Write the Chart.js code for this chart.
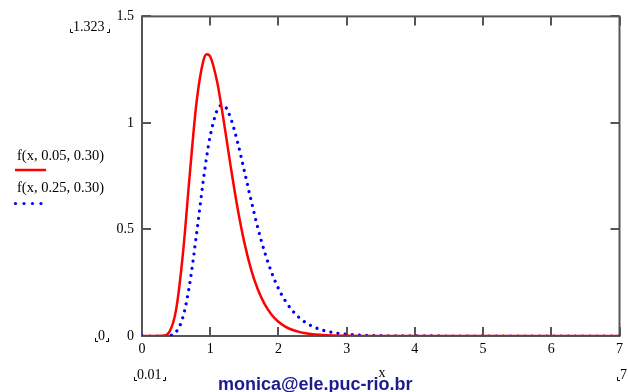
<!DOCTYPE html>
<html>
<head>
<meta charset="utf-8">
<script src="https://cdn.jsdelivr.net/npm/chart.js@4/dist/chart.umd.min.js"></script>
<style>
html,body{margin:0;padding:0;background:#fff;}
#wrap{position:relative;width:628px;height:392px;}
canvas{display:block;}
</style>
</head>
<body>
<div id="wrap"><canvas id="c" width="628" height="392"></canvas></div>
<script>
// x values (Mathcad range starts at 0.01)
const xValues = [0.01,0.1,0.2,0.3,0.4,0.5,0.6,0.7,0.8,0.9,0.95,1.0,1.1,1.15,1.2,1.3,1.4,1.5,1.6,1.7,1.8,1.9,2.0,2.1,2.2,2.3,2.4,2.5,2.6,2.7,2.8,2.9,3.0,3.2,3.4,3.6,3.8,4.0,5.0,6.0,7.0];
// f(x, 0.05, 0.30)
const seriesA = [0,0,0.000002,0.0007,0.0186,0.1237,0.3862,0.758,1.0982,1.2922,1.3222,1.3115,1.1952,1.1057,1.0055,0.7962,0.6021,0.4394,0.3119,0.2168,0.1482,0.1,0.0668,0.0443,0.0292,0.0192,0.0126,0.0082,0.0054,0.0035,0.0023,0.0015,0.001,0.0004,0.0002,0.0001,0.00003,0.00001,0,0,0];
// f(x, 0.25, 0.30)
const seriesB = [0,0,0,0.00004,0.0017,0.019,0.0889,0.2459,0.4793,0.7326,0.8454,0.9397,1.0584,1.0809,1.0803,1.0221,0.9112,0.7752,0.6352,0.5051,0.3919,0.2982,0.2233,0.1651,0.1208,0.0876,0.0631,0.0452,0.0322,0.0229,0.0162,0.0115,0.0081,0.004,0.002,0.001,0.0005,0.0003,0,0,0];
const seriesNames = ["f(x, 0.05, 0.30)", "f(x, 0.25, 0.30)"];
const xTicks = [0,1,2,3,4,5,6,7];
const yTicks = [0,0.5,1,1.5];
const yTickLabels = ["0","0.5","1","1.5"];

const SERIF = '"Liberation Serif", "Times New Roman", serif';

const framePlugin = {
  id: 'frame',
  beforeDatasetsDraw(chart) {
    const ctx = chart.ctx, a = chart.chartArea;
    const xs = chart.scales.x, ys = chart.scales.y;
    ctx.save();
    ctx.strokeStyle = '#555555';
    ctx.lineWidth = 2;
    ctx.strokeRect(a.left, a.top, a.right - a.left, a.bottom - a.top);
    ctx.beginPath();
    xTicks.forEach(v => {
      const px = Math.round(xs.getPixelForValue(v));
      ctx.moveTo(px, a.bottom); ctx.lineTo(px, a.bottom - 9);
      ctx.moveTo(px, a.top); ctx.lineTo(px, a.top + 9);
    });
    yTicks.forEach(v => {
      const py = Math.round(ys.getPixelForValue(v));
      ctx.moveTo(a.left, py); ctx.lineTo(a.left + 9, py);
      ctx.moveTo(a.right, py); ctx.lineTo(a.right - 9, py);
    });
    ctx.stroke();
    ctx.restore();
  },
  afterDraw(chart) {
    const ctx = chart.ctx;
    ctx.save();
    ctx.fillStyle = '#000';
    ctx.font = '14px ' + SERIF;
    ctx.textBaseline = 'alphabetic';
    const corner = (x1, x2, yb) => {
      ctx.strokeStyle = '#000';
      ctx.lineWidth = 1;
      ctx.beginPath();
      ctx.moveTo(x1 + 0.5, yb - 3); ctx.lineTo(x1 + 0.5, yb + 0.5); ctx.lineTo(x1 + 3, yb + 0.5);
      if (x2 !== null) {
        ctx.moveTo(x2 - 0.5, yb - 3); ctx.lineTo(x2 - 0.5, yb + 0.5); ctx.lineTo(x2 - 3, yb + 0.5);
      }
      ctx.stroke();
    };
    // range labels
    ctx.textAlign = 'left';
    ctx.fillText('1.323', 73, 31); corner(70, 110, 32);
    ctx.fillText('0', 98, 340); corner(95, 109, 341);
    ctx.fillText('0.01', 137, 379); corner(134, 166, 380);
    ctx.fillText('7', 620, 379); corner(617, null, 380);
    ctx.textAlign = 'center';
    ctx.fillText('x', 382, 377);
    // legend
    ctx.textAlign = 'left';
    ctx.font = '14.5px ' + SERIF;
    ctx.fillText(seriesNames[0], 17, 160);
    ctx.fillText(seriesNames[1], 17, 192);
    ctx.strokeStyle = '#ff0000';
    ctx.lineWidth = 2.5;
    ctx.beginPath(); ctx.moveTo(15, 170); ctx.lineTo(46, 170); ctx.stroke();
    ctx.fillStyle = '#0000ff';
    [15.5, 24, 32.5, 41].forEach(x => { ctx.beginPath(); ctx.arc(x, 203.5, 1.6, 0, Math.PI * 2); ctx.fill(); });
    // watermark
    ctx.fillStyle = '#1c1c8c';
    ctx.font = 'bold 18px "Liberation Sans", Arial, sans-serif';
    ctx.fillText('monica@ele.puc-rio.br', 218, 390);
    ctx.restore();
  }
};

new Chart(document.getElementById('c'), {
  type: 'line',
  data: {
    datasets: [
      {
        label: seriesNames[0],
        data: xValues.map((x, i) => ({x: x, y: seriesA[i]})),
        borderColor: '#ff0000',
        borderWidth: 2.5,
        pointRadius: 0,
        fill: false,
        cubicInterpolationMode: 'monotone'
      },
      {
        label: seriesNames[1],
        data: xValues.map((x, i) => ({x: x, y: seriesB[i]})),
        borderColor: '#0000ff',
        borderWidth: 3.2,
        borderDash: [0.001, 7.2],
        borderCapStyle: 'round',
        pointRadius: 0,
        fill: false,
        cubicInterpolationMode: 'monotone'
      }
    ]
  },
  options: {
    responsive: false,
    animation: false,
    events: [],
    layout: {padding: {left: 0, right: 7, top: 13, bottom: 0}},
    plugins: {legend: {display: false}, tooltip: {enabled: false}},
    scales: {
      x: {
        type: 'linear', min: 0, max: 7,
        afterBuildTicks: s => { s.ticks = xTicks.map(v => ({value: v})); },
        ticks: {color: '#000', font: {family: SERIF, size: 14}, padding: 5, maxRotation: 0, autoSkip: false},
        grid: {display: false, drawTicks: false},
        border: {display: false},
        afterFit: s => { s.height = 56; }
      },
      y: {
        type: 'linear', min: 0, max: 1.5,
        afterBuildTicks: s => { s.ticks = yTicks.map(v => ({value: v})); },
        ticks: {color: '#000', font: {family: SERIF, size: 14}, padding: 8,
          callback: (v) => yTickLabels[yTicks.indexOf(v)]},
        grid: {display: false, drawTicks: false},
        border: {display: false},
        afterFit: s => { s.width = 142; }
      }
    }
  },
  plugins: [framePlugin]
});
</script>
</body>
</html>
